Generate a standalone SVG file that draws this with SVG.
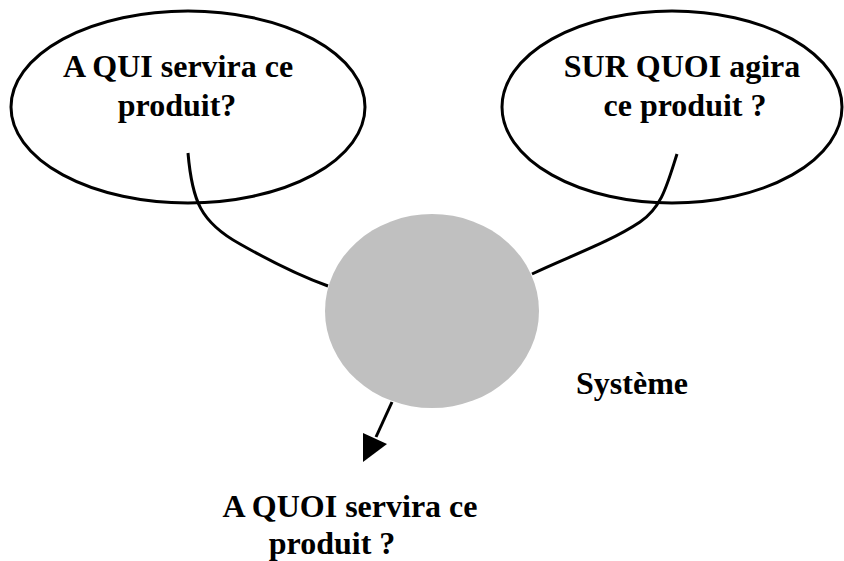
<svg xmlns="http://www.w3.org/2000/svg" width="844" height="561" viewBox="0 0 844 561">
<style>
.t{font-family:"Liberation Serif","Times New Roman",serif;font-weight:bold;font-size:32px;fill:#000;text-anchor:middle}
.o{fill:none;stroke:#000;stroke-width:3}
.c{fill:none;stroke:#000;stroke-width:3}
</style>
<rect width="844" height="561" fill="#fff"/>
<g id="qui">
<ellipse class="o" cx="188" cy="107" rx="177" ry="96"/>
<text class="t" x="178" y="77">A QUI servira ce</text>
<text class="t" x="177" y="116">produit?</text>
</g>
<g id="surquoi">
<ellipse class="o" cx="672" cy="107" rx="170" ry="96"/>
<text class="t" x="682" y="77">SUR QUOI agira</text>
<text class="t" x="685" y="116">ce produit ?</text>
</g>
<g id="systeme">
<ellipse cx="432" cy="311" rx="107" ry="97" fill="#c0c0c0"/>
<text class="t" x="632" y="394">Système</text>
</g>
<g id="aquoi">
<text class="t" x="350" y="517">A QUOI servira ce</text>
<text class="t" x="332" y="554">produit ?</text>
</g>
<g id="connectors">
<path class="c" d="M188,153 C192,200 200,222 240,244 C270,261 300,276 328,286"/>
<path class="c" d="M677,154 C667,185 662,207 640,222 C610,242 570,256 532,274"/>
<line class="c" x1="392" y1="402" x2="376" y2="437"/>
<polygon points="363,462 363,433 387,444" fill="#000"/>
</g>
</svg>
